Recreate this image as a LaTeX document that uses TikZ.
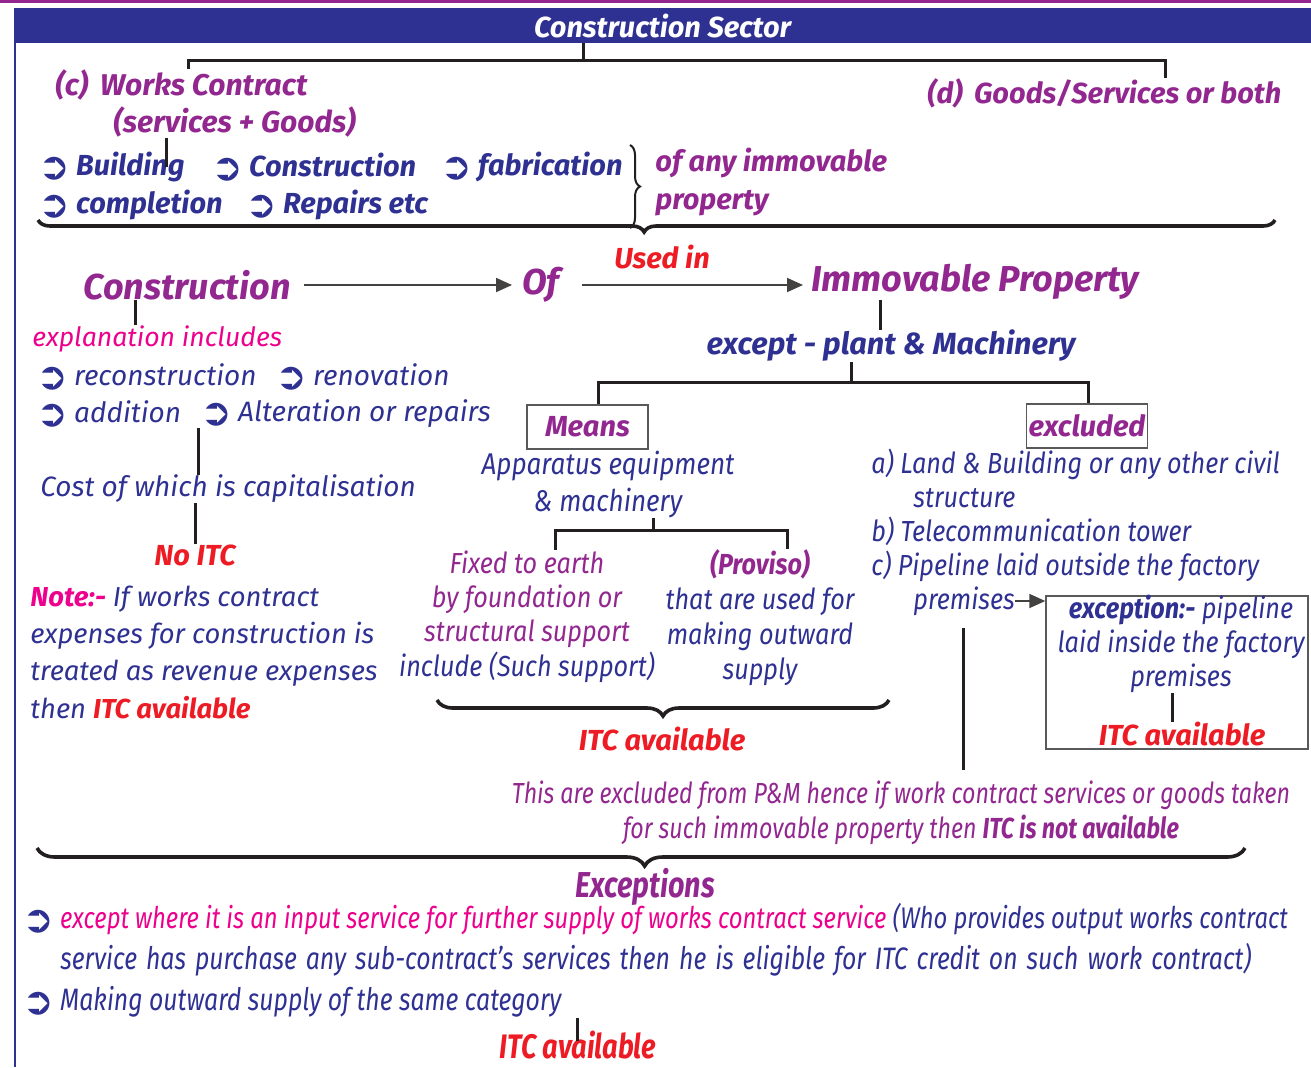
\documentclass[tikz,border=0pt]{standalone}
\usepackage{fontspec}
\setmainfont{Fira Sans}
\newfontfamily\symfont{DejaVu Sans}
\newfontfamily\midfont[FakeStretch=0.87]{Fira Sans}
\newfontfamily\condfont[FakeStretch=0.8]{Fira Sans}
\usetikzlibrary{arrows.meta,decorations.pathreplacing}

\definecolor{navy}{HTML}{2E3192}
\definecolor{plum}{HTML}{92278F}
\definecolor{magen}{HTML}{EC008C}
\definecolor{itcred}{HTML}{ED1C24}
\definecolor{lineblk}{HTML}{231F20}
\definecolor{boxgrey}{HTML}{58595B}

\newcommand{\bul}{{\color{navy}\symfont\fontsize{19}{14}\selectfont\raisebox{-2pt}{➲}}\hspace{3pt}}

\tikzset{
  conn/.style={line width=1.5pt, draw=lineblk},
  arr/.style={line width=0.9pt, draw=lineblk!85, -{Triangle[length=8pt,width=7pt]}},
  bigbrace/.style={line width=1.8pt, draw=lineblk, decorate},
  txt/.style={inner sep=0pt, text=navy, font=\fontsize{14}{18.5}\selectfont\itshape},
  midtxt/.style={inner sep=0pt, text=navy, font=\fontsize{14.5}{17}\midfont\itshape},
  btxt/.style={inner sep=0pt, text=navy, font=\fontsize{14.5}{18.5}\selectfont\bfseries\itshape},
  bigtxt/.style={inner sep=0pt, text=plum, font=\fontsize{18}{22}\selectfont\bfseries\itshape},
  banner/.style={fill=navy, text=white, inner sep=0pt, minimum width=648.5pt, minimum height=17.5pt,
    font=\fontsize{14.5}{17}\selectfont\bfseries\itshape},
  boxnode/.style={draw=boxgrey, line width=0.7pt, inner sep=0pt, minimum width=60.5pt, minimum height=22pt,
    text=plum, font=\fontsize{14.5}{17}\selectfont\bfseries\itshape},
  exbox/.style={draw=boxgrey, line width=0.7pt, inner sep=0pt, minimum width=131pt, minimum height=76.5pt},
  cond/.style={inner sep=0pt, text=navy, font=\fontsize{15}{17.5}\condfont\itshape},
  condbold/.style={inner sep=0pt, text=plum, font=\fontsize{18}{20}\condfont\bfseries\itshape}
}

\begin{document}
\begin{tikzpicture}[x=0.5pt,y=-0.5pt]
    \useasboundingbox (0,0) rectangle (1311,1067);
    \fill[plum] (0,0) rectangle (1311,3);
    \draw[navy, line width=0.7pt] (15,43) -- (15,1067);
    \node[banner] (title) at (662.5,25.5) {Construction Sector};

    % top branches
    \coordinate (jt) at (583,60);
    \node[btxt, text=plum, anchor=west, font=\fontsize{15}{17}\selectfont\bfseries\itshape] (works) at (55,85) {(c)\, Works Contract};
    \node[btxt, text=plum, anchor=west, font=\fontsize{15}{17}\selectfont\bfseries\itshape] (wsg) at (113,122) {(services + Goods)};
    \node[btxt, text=plum, anchor=west] (goods) at (927,93) {(d)\, Goods/Services or both};
    \draw[conn] (title.south -| jt) -- (jt);
    \draw[conn] (works.north -| 188,0) |- (jt) -| (goods.north -| 1165,0);

    \node[btxt, anchor=west] (build) at (38,167) {\bul Building};
    \node[btxt, anchor=west] (constr) at (211,167) {\bul Construction};
    \node[btxt, anchor=west] (fabr) at (440,167) {\bul fabrication};
    \node[btxt, anchor=west] (compl) at (38,205) {\bul completion};
    \node[btxt, anchor=west] (repair) at (245,205) {\bul Repairs etc};
    \draw[conn] (wsg.south -| 166,0) -- (build.center -| 166,0);
    \draw[line width=1pt, draw=lineblk, decorate, decoration={brace, amplitude=5pt}] (630,145) -- (630,228);
    \node[btxt, text=plum, anchor=west, align=left, font=\fontsize{14.5}{19}\selectfont\bfseries\itshape] (anyimm) at (655,182) {of any immovable\\property};
    \draw[bigbrace, decoration={brace, mirror, amplitude=6pt, aspect=0.49}] (38,220) -- (1275,220);

    % used in
    \node[btxt, text=itcred] (used) at (662,257) {Used in};
    \node[bigtxt, anchor=west] (cons) at (83,285) {Construction};
    \node[bigtxt, anchor=west] (of) at (522,285) {Of};
    \node[bigtxt, anchor=west] (imm) at (811,282) {Immovable Property};
    \draw[arr, shorten <=6.5pt, shorten >=5pt] (cons.east) -- (of.west);
    \draw[arr, shorten <=11pt, shorten >=4pt] (of.east) -- (imm.west |- of.east);
    \node[btxt, font=\fontsize{15.3}{18}\selectfont\bfseries\itshape] (exc) at (891,346) {except - plant \& Machinery};
    \draw[conn] (imm.south -| 880,0) -- (exc.north -| 880,0);

    % means / excluded
    \coordinate (jx) at (851,382);
    \node[boxnode] (means) at (587.5,427) {Means};
    \node[boxnode] (excl) at (1087,426) {excluded};
    \draw[conn] (exc.south -| jx) -- (jx);
    \draw[conn] (means.north -| 598,0) |- (jx) -| (excl.north -| 1088,0);

    \node[midtxt, align=center, font=\fontsize{15}{18.5}\midfont\itshape] (app) at (608,484.5) {Apparatus equipment\\\& machinery};
    \coordinate (jm) at (653,530);
    \node[midtxt, text=plum, align=center, font=\fontsize{14.5}{17.2}\midfont\itshape] (fixed) at (527,616.5) {Fixed to earth\\by foundation or\\structural support\\{\color{navy}include (Such support)}};
    \node[midtxt, align=center, font=\fontsize{14.5}{17.5}\midfont\itshape] (prov) at (760,617.5) {{\bfseries\color{plum}(Proviso)}\\that are used for\\making outward\\supply};
    \draw[conn] (app.south -| jm) -- (jm);
    \draw[conn] (fixed.north -| 555,0) |- (jm) -| (prov.north -| 787,0);
    \draw[bigbrace, decoration={brace, mirror, amplitude=8pt}] (437,700) -- (889,700);
    \node[btxt, text=itcred] (itc2) at (662,739) {ITC available};

    % explanation
    \node[txt, text=magen, anchor=west, font=\fontsize{13.3}{16}\selectfont\itshape] (expl) at (32,339) {explanation includes};
    \draw[conn] (cons.south -| 135,0) -- (expl.north -| 135,0);
    \node[txt, anchor=west] (recon) at (36,377) {\bul reconstruction};
    \node[txt, anchor=west] (renov) at (275,377) {\bul renovation};
    \node[txt, anchor=west] (addn) at (36,414) {\bul addition};
    \node[txt, anchor=west] (alter) at (200,414) {\bul Alteration or repairs};
    \node[txt, anchor=west] (cost) at (40,489) {Cost of which is capitalisation};
    \draw[conn] (alter.south -| 198,0) -- (cost.north -| 198,0);
    \node[btxt, text=itcred] (noitc) at (195,555) {No ITC};
    \draw[conn] (cost.south -| 195,0) -- (noitc.north -| 195,0);
    \node[txt, anchor=west, align=left, font=\fontsize{13.7}{18.65}\selectfont\itshape] (note) at (30,652) {{\bfseries\color{magen}Note:-} If works contract\\expenses for construction is\\treated as revenue expenses\\then {\bfseries\color{itcred}ITC available}};

    % excluded list
    \node[midtxt, anchor=west, align=left] (exlist) at (871,515) {a) Land \& Building or any other civil\\\hspace*{21pt}structure\\b) Telecommunication tower\\c) Pipeline laid outside the factory};
    \node[midtxt, anchor=west] (prem) at (913,601) {premises};
    \node[exbox] (exbox) at (1177,672.5) {};
    \draw[arr] (prem.east) -- (exbox.west |- prem.east);
    \node[midtxt, align=center] (excp) at (1181,644) {\textbf{exception:-} pipeline\\laid inside the factory\\premises};
    \node[btxt, text=itcred] (itc4) at (1182,734) {ITC available};
    \draw[conn] (excp.south -| 1172,0) -- (itc4.north -| 1172,0);

    % not available
    \node[cond, text=plum, align=center, font=\fontsize{14.5}{17.5}\condfont\itshape] (notav) at (901,812.5) {This are excluded from P\&M hence if work contract services or goods taken\\for such immovable property then \textbf{ITC is not available}};
    \draw[conn, shorten <=6pt, shorten >=5pt] (prem.south -| 963,0) -- (notav.north -| 963,0);
    \draw[bigbrace, decoration={brace, mirror, amplitude=9pt, aspect=0.503}] (37,848) -- (1245,848);
    \node[condbold] (excs) at (645,887) {Exceptions};
    \node[cond, anchor=west, font=\fontsize{14.9}{17.5}\condfont\itshape] (ex1) at (22,919) {\bul{\color{magen}except where it is an input service for further supply of works contract service} (Who provides output works contract};
    \node[cond, anchor=west, font=\fontsize{15.5}{17.5}\condfont\itshape] (ex2) at (60,960) {\spaceskip=4.5pt plus 1pt service has purchase any sub-contract’s services then he is eligible for ITC credit on such work contract)};
    \node[cond, anchor=west, font=\fontsize{15.5}{17.5}\condfont\itshape] (ex3) at (22,1002) {\bul Making outward supply of the same category};
    \node[condbold, text=itcred, font=\fontsize{17}{19}\condfont\bfseries\itshape] (itc5) at (578,1045) {ITC available};
    \draw[conn, shorten >=-5pt] (ex3.south -| 577,0) -- (itc5.north -| 577,0);
\end{tikzpicture}
\end{document}
